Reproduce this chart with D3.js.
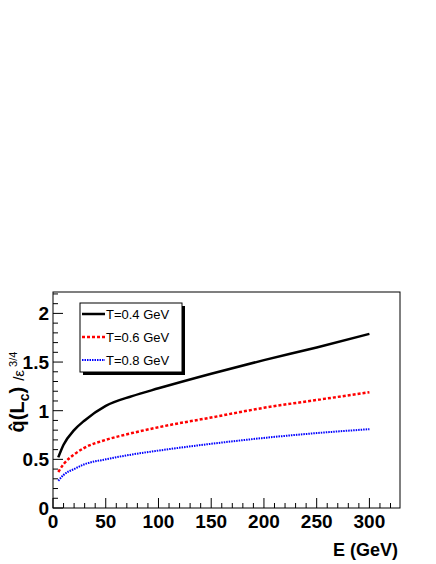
<!DOCTYPE html>
<html><head><meta charset="utf-8">
<script src="https://cdn.jsdelivr.net/npm/d3@7"></script>
<style>body{margin:0;background:#fff}text{font-family:"Liberation Sans",Arial,sans-serif}</style>
</head><body>
<script>
// sampled energies (GeV) and qhat values per temperature
var energies = [5, 10, 20, 30, 50, 75, 100, 150, 200, 250, 300];
var qT04 = [0.52, 0.65, 0.80, 0.90, 1.05, 1.15, 1.23, 1.38, 1.52, 1.65, 1.79];
var qT06 = [0.37, 0.45, 0.55, 0.62, 0.70, 0.77, 0.83, 0.93, 1.03, 1.11, 1.19];
var qT08 = [0.28, 0.34, 0.40, 0.45, 0.50, 0.55, 0.59, 0.66, 0.72, 0.77, 0.81];
var seriesNames = ["T=0.4 GeV", "T=0.6 GeV", "T=0.8 GeV"];
var xTicks = [0, 50, 100, 150, 200, 250, 300];
var yTicks = [0, 0.5, 1, 1.5, 2];

var svg = d3.select("body").append("svg").attr("width", 436).attr("height", 564);
var pLeft = 53, pRight = 400, pTop = 292, pBottom = 508;

var x = d3.scaleLinear().domain([0, 329]).range([pLeft, pRight]);
var y = d3.scaleLinear().domain([0, 2.22]).range([pBottom, pTop]);

// frame
svg.append("rect").attr("x", pLeft).attr("y", pTop).attr("width", pRight - pLeft).attr("height", pBottom - pTop)
  .attr("fill", "none").attr("stroke", "#000").attr("stroke-width", 1);

// inward ticks
var minorX = d3.range(0, 330, 10);
svg.append("g").selectAll("line").data(minorX).enter().append("line")
  .attr("x1", d => x(d)).attr("x2", d => x(d))
  .attr("y1", pBottom).attr("y2", d => pBottom - (d % 50 === 0 ? 10 : 5))
  .attr("stroke", "#000");
svg.append("g").selectAll("text").data(xTicks).enter().append("text")
  .attr("x", d => x(d)).attr("y", pBottom + 20).attr("text-anchor", "middle")
  .attr("font-size", 19).attr("font-weight", "bold").text(d => d);

var minorY = d3.range(0, 23).map(i => i / 10);
svg.append("g").selectAll("line").data(minorY).enter().append("line")
  .attr("y1", d => y(d)).attr("y2", d => y(d))
  .attr("x1", pLeft).attr("x2", (d, i) => pLeft + (i % 5 === 0 ? 10 : 5))
  .attr("stroke", "#000");
svg.append("g").selectAll("text").data(yTicks).enter().append("text")
  .attr("x", pLeft - 4).attr("y", d => y(d) + 7).attr("text-anchor", "end")
  .attr("font-size", 19).attr("font-weight", "bold").text(d => d);

// axis titles
svg.append("text").attr("x", 398).attr("y", 556).attr("text-anchor", "end")
  .attr("font-size", 18).attr("font-weight", "bold").text("E (GeV)");
var yt = svg.append("text").attr("transform", "translate(24,392) rotate(-90)").attr("text-anchor", "middle");
yt.append("tspan").attr("font-size", 20).attr("font-weight", "bold").text("q\u0302(L");
yt.append("tspan").attr("font-size", 14).attr("font-weight", "bold").attr("dy", 5).text("c");
yt.append("tspan").attr("font-size", 20).attr("font-weight", "bold").attr("dy", -5).text(")");
yt.append("tspan").attr("font-size", 15).attr("dx", 6).text("/\u03b5");
yt.append("tspan").attr("font-size", 11).attr("dy", -7).text(" 3/4");

// curves
var styles = [
  {data: qT04, color: "#000000", dash: null, width: 2.5},
  {data: qT06, color: "#ff0000", dash: "3,2", width: 2.5},
  {data: qT08, color: "#0000ff", dash: "1.5,1", width: 2}
];
var line = d3.line().curve(d3.curveMonotoneX);
styles.forEach(function (s) {
  svg.append("path")
    .attr("d", line(energies.map((e, i) => [x(e), y(s.data[i])])))
    .attr("fill", "none").attr("stroke", s.color).attr("stroke-width", s.width)
    .attr("stroke-dasharray", s.dash);
});

// legend
var lg = svg.append("g");
lg.append("rect").attr("x", 83).attr("y", 306).attr("width", 102).attr("height", 69).attr("fill", "#000");
lg.append("rect").attr("x", 80).attr("y", 303).attr("width", 102).attr("height", 69)
  .attr("fill", "#fff").attr("stroke", "#000").attr("stroke-width", 1);
seriesNames.forEach(function (n, i) {
  var yy = 314 + i * 23;
  lg.append("line").attr("x1", 82).attr("x2", 105).attr("y1", yy).attr("y2", yy)
    .attr("stroke", styles[i].color).attr("stroke-width", styles[i].width).attr("stroke-dasharray", styles[i].dash);
  lg.append("text").attr("x", 106).attr("y", yy + 5).attr("font-size", 13).text(n);
});
</script>
</body></html>
